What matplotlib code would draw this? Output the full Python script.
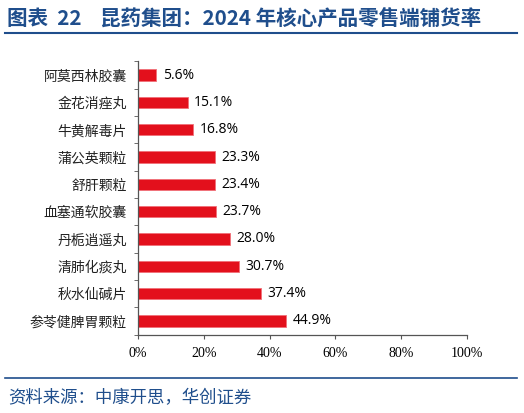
import matplotlib
matplotlib.use("Agg")
import matplotlib.pyplot as plt
from matplotlib.lines import Line2D
import numpy as np

categories = ["阿莫西林胶囊", "金花消痤丸", "牛黄解毒片", "蒲公英颗粒", "舒肝颗粒",
              "血塞通软胶囊", "丹栀逍遥丸", "清肺化痰丸", "秋水仙碱片", "参苓健脾胃颗粒"]
values = [5.6, 15.1, 16.8, 23.3, 23.4, 23.7, 28.0, 30.7, 37.4, 44.9]
xticks = [0, 20, 40, 60, 80, 100]
xtick_labels = ["0%", "20%", "40%", "60%", "80%", "100%"]
title = "图表  22    昆药集团：2024 年核心产品零售端铺货率"
source = "资料来源：中康开思，华创证券"

W, H = 524, 413
fig = plt.figure(figsize=(W / 100, H / 100), dpi=100)
blue = "#1F4E8C"
cjk = ["Noto Sans CJK SC", "DejaVu Sans"]

ax = fig.add_axes([138 / W, 1 - 334.5 / H, (467 - 138) / W, (334.5 - 61.5) / H])
y = np.arange(len(categories))
ax.barh(y, values, height=0.42, color="#E3101C", edgecolor="#F07078", linewidth=0.6)
ax.set_ylim(len(categories) - 0.5, -0.5)
ax.set_xlim(0, 100)
for yi, v in zip(y, values):
    ax.text(v + 2.0, yi, f"{v:.1f}%", va="center", ha="left", fontsize=10,
            family=["Open Sans", "DejaVu Sans"], color="black")

ax.set_yticks(y)
ax.set_yticklabels(categories, family=cjk, fontsize=10, color="#222222")
ax.set_yticks(np.arange(len(categories) + 1) - 0.5, minor=True)
ax.tick_params(axis="y", which="major", length=0, pad=8)
ax.tick_params(axis="y", which="minor", length=3, direction="out", color="#555555")
ax.set_xticks(xticks)
ax.set_xticklabels(xtick_labels, family=["Liberation Serif"], fontsize=10)
ax.tick_params(axis="x", length=3, direction="out", color="#555555", pad=6)
for s in ["top", "right"]:
    ax.spines[s].set_visible(False)
for s in ["left", "bottom"]:
    ax.spines[s].set_color("#555555")
    ax.spines[s].set_linewidth(0.9)

fig.text(7 / W, 1 - 18 / H, title, family=["Noto Sans CJK SC", "DejaVu Sans"],
         fontsize=14.8, fontweight="bold", color=blue, va="center", ha="left")
fig.add_artist(Line2D([5 / W, 517 / W], [1 - 33 / H, 1 - 33 / H], color=blue, linewidth=1.5))
fig.add_artist(Line2D([5 / W, 517 / W], [1 - 378 / H, 1 - 378 / H], color=blue, linewidth=1.2))
fig.text(8 / W, 1 - 398 / H, source, family=cjk, fontsize=12.5, style="italic",
         color=blue, va="center", ha="left")

fig.savefig("out.png", dpi=100)
